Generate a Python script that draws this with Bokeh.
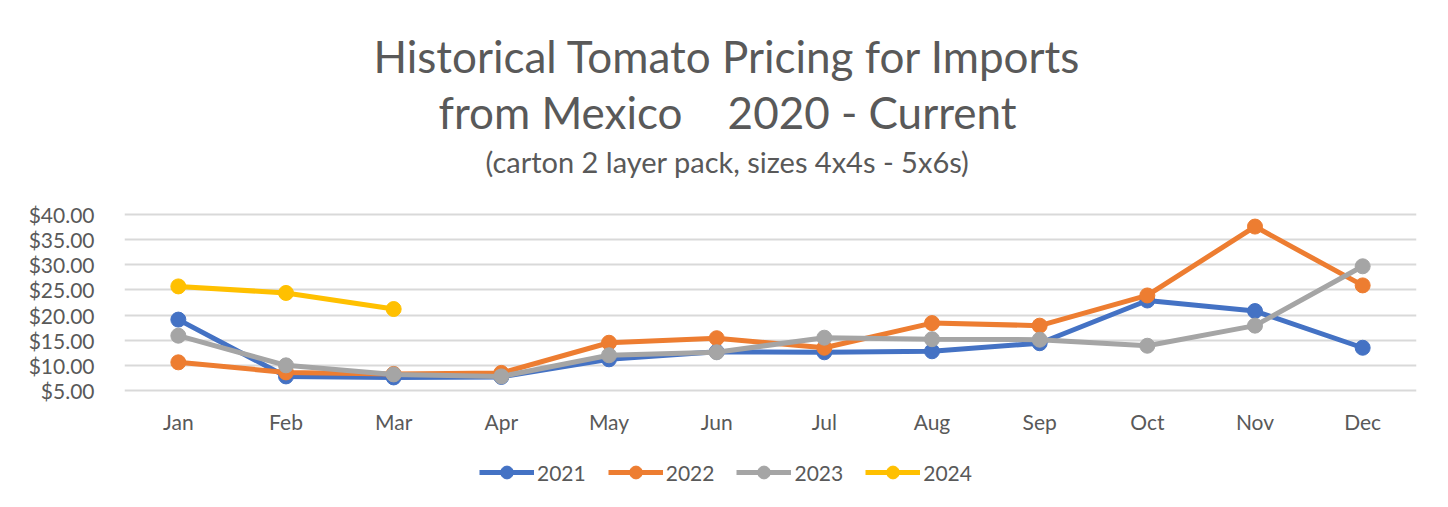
from bokeh.plotting import figure
from bokeh.models import (FactorRange, Range1d, NumeralTickFormatter, FixedTicker,
                          Legend, LegendItem, Label)
from bokeh.embed import file_html
from bokeh.resources import INLINE

months = ["Jan", "Feb", "Mar", "Apr", "May", "Jun", "Jul", "Aug", "Sep", "Oct", "Nov", "Dec"]
y2021 = [19.1, 7.8, 7.6, 7.7, 11.2, 12.7, 12.6, 12.8, 14.4, 22.9, 20.8, 13.5]
y2022 = [10.6, 8.6, 8.3, 8.5, 14.5, 15.4, 13.5, 18.4, 17.9, 23.9, 37.6, 25.9]
y2023 = [15.9, 10.0, 8.2, 7.8, 12.0, 12.6, 15.5, 15.2, 15.1, 13.9, 17.9, 29.7]
y2024 = [25.7, 24.4, 21.2]
series_names = ["2021", "2022", "2023", "2024"]
y_ticks = [5, 10, 15, 20, 25, 30, 35, 40]

NB = "\u00a0"
title1 = "Historical Tomato Pricing for Imports"
title2 = "from Mexico" + NB * 4 + "2020 - Current"
subtitle = "(carton 2 layer pack, sizes 4x4s - 5x6s)"

FONT = "Lato"
TXT = "#595959"
colors = ["#4472C4", "#ED7D31", "#A5A5A5", "#FFC000"]

# layout: value axis 5..40 occupies 176px; frame extends up for titles, down for legend
PLOT_H = 176
TOP_H = 214
BOT_H = 101
FRAME_H = PLOT_H + TOP_H + BOT_H
y_lo, y_hi = y_ticks[0], y_ticks[-1]
per_px = (y_hi - y_lo) / PLOT_H

p = figure(frame_width=1292, frame_height=FRAME_H, x_range=FactorRange(*months),
           y_range=Range1d(y_lo - BOT_H * per_px, y_hi + TOP_H * per_px),
           output_backend="svg", toolbar_location=None, title=None,
           min_border_left=124, min_border_right=16, min_border_top=0, min_border_bottom=0)
p.outline_line_color = None
p.background_fill_color = "white"
p.border_fill_color = "white"

p.xgrid.grid_line_color = None
p.ygrid.grid_line_color = "#d9d9d9"
p.ygrid.grid_line_width = 2
p.yaxis.ticker = FixedTicker(ticks=y_ticks)
p.yaxis.formatter = NumeralTickFormatter(format="$0.00")
p.xaxis.fixed_location = y_lo
for ax in (p.xaxis[0], p.yaxis[0]):
    ax.axis_line_color = None
    ax.major_tick_line_color = None
    ax.minor_tick_line_color = None
    ax.major_label_text_font = FONT
    ax.major_label_text_font_size = "21px"
    ax.major_label_text_color = TXT
p.yaxis.major_label_standoff = 24
p.xaxis.major_label_standoff = 12

data = [y2021, y2022, y2023, y2024]
items = []
for name, ys, c in zip(series_names, data, colors):
    xs = months[:len(ys)]
    r1 = p.line(xs, ys, line_color=c, line_width=5)
    r2 = p.scatter(xs, ys, size=15, fill_color=c, line_color=c)
    items.append(LegendItem(label=name, renderers=[r1, r2]))

legend = Legend(items=items, orientation="horizontal", location=(355, 3),
                label_text_font=FONT, label_text_font_size="21px", label_text_color=TXT,
                glyph_width=55, glyph_height=32, spacing=22, label_standoff=3,
                border_line_color=None, background_fill_alpha=0, padding=0, margin=0)
p.add_layout(legend, "center")

cx = 603
for txt, yb, fs in [(title1, FRAME_H - 73 + 18, "44px"),
                    (title2, FRAME_H - 129 + 18, "44px"),
                    (subtitle, FRAME_H - 173 + 12, "29px")]:
    p.add_layout(Label(x=cx, y=yb, x_units="screen", y_units="screen", text=txt,
                       text_font=FONT, text_font_size=fs, text_color=TXT,
                       text_align="center", text_baseline="alphabetic"))

open("out.html", "w").write(file_html(p, INLINE))
